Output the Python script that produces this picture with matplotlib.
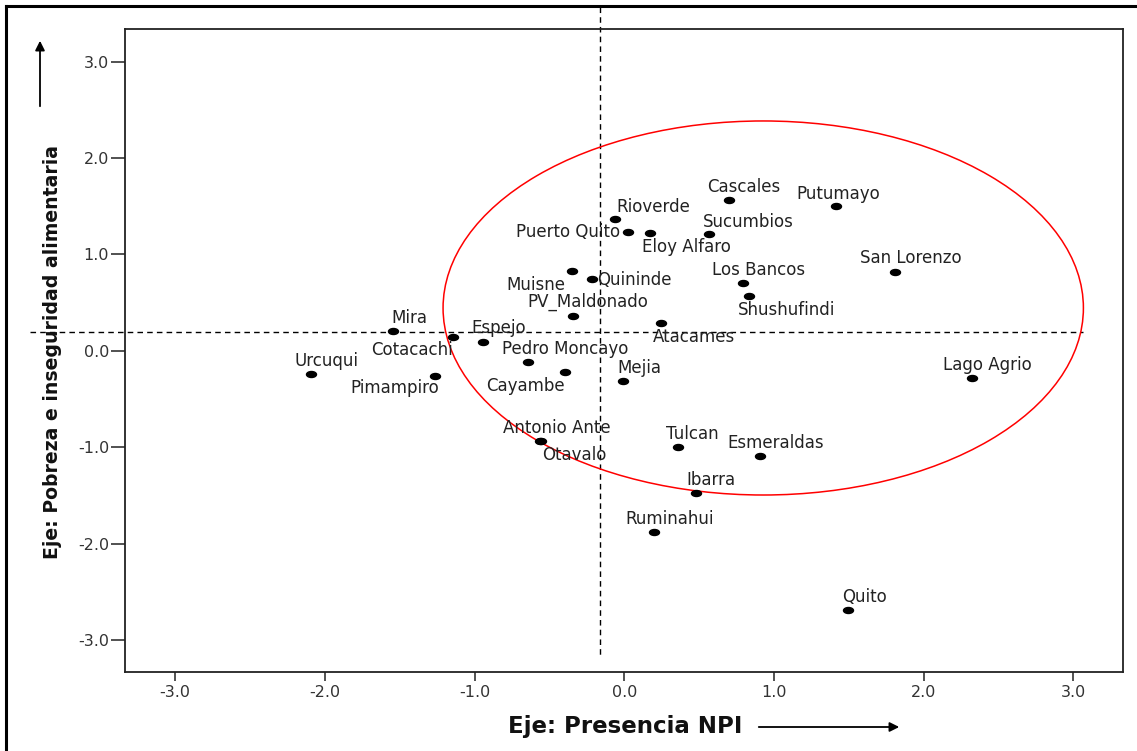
import matplotlib
matplotlib.use("Agg")
import matplotlib.pyplot as plt
from matplotlib.patches import Ellipse, FancyArrowPatch
from matplotlib.lines import Line2D
from matplotlib.path import Path
from matplotlib.transforms import Affine2D

plt.rcParams['font.family'] = ['DejaVu Sans']
plt.rcParams['axes.unicode_minus'] = False

# cantones y sus coordenadas en los dos ejes
cantones = ["Urcuqui", "Mira", "Cotacachi", "Espejo", "Pimampiro", "Pedro Moncayo",
            "Cayambe", "Mejia", "Muisne", "Quininde", "PV_Maldonado", "Rioverde",
            "Puerto Quito", "Eloy Alfaro", "Sucumbios", "Cascales", "Putumayo",
            "Los Bancos", "Shushufindi", "Atacames", "San Lorenzo", "Lago Agrio",
            "Antonio Ante", "Otavalo", "Tulcan", "Esmeraldas", "Ibarra",
            "Ruminahui", "Quito"]
eje_npi = [-2.093, -1.547, -1.146, -0.946, -1.265, -0.641,
           -0.396, -0.007, -0.351, -0.216, -0.341, -0.062,
           0.023, 0.172, 0.568, 0.701, 1.414,
           0.795, 0.835, 0.245, 1.808, 2.325,
           -0.563, -0.556, 0.357, 0.906, 0.479,
           0.196, 1.494]
eje_pobreza = [-0.241, 0.209, 0.146, 0.094, -0.261, -0.113,
               -0.217, -0.310, 0.831, 0.742, 0.361, 1.364,
               1.229, 1.219, 1.212, 1.564, 1.502,
               0.700, 0.568, 0.291, 0.817, -0.279,
               -0.933, -0.936, -1.001, -1.091, -1.472,
               -1.880, -2.689]

# desplazamiento de cada etiqueta (pixeles, centro x / linea base)
lab_dx = [16, 17, -41, 16, -40, 37,
          -40, 16, -36, 42, 15, 38,
          -60, 36, 39, 15, 2,
          15, 37, 33, 16, 15,
          17, 33, 15, 16, 15,
          16, 17]
lab_dy = [8, 8, -18, 9, -17, 8,
          -19, 8, -19, -6, 9, 7,
          -5, -19, 7, 8, 7,
          8, -19, -19, 9, 8,
          8, -19, 8, 8, 8,
          8, 8]

ticks = [-3.0, -2.0, -1.0, 0.0, 1.0, 2.0, 3.0]
ref_x = -0.162
ref_y = 0.20

fig = plt.figure(figsize=(11.37, 7.51), dpi=100)
ax = fig.add_axes([125/1137, 79/751, 998/1137, 643/751])

ell_marker = Path.unit_circle().transformed(Affine2D().scale(1.0, 0.6))
ax.plot(eje_npi, eje_pobreza, ls='none', marker=ell_marker, ms=7.2,
        color='black', zorder=3)

for name, x, y, dx, dy in zip(cantones, eje_npi, eje_pobreza, lab_dx, lab_dy):
    ax.annotate(name, (x, y), xytext=(dx, dy), textcoords='offset pixels',
                ha='center', va='baseline', fontsize=12, color='#222222', zorder=4)

# lineas de referencia (salen fuera del area)
ax.plot([-3.97, 3.064], [ref_y, ref_y], color='black', lw=1.0,
        ls=(0, (4, 3)), clip_on=False, zorder=2)
ax.plot([ref_x, ref_x], [3.566, -3.18], color='black', lw=1.0,
        ls=(0, (4, 3)), clip_on=False, zorder=2)

ax.add_patch(Ellipse((0.928, 0.444), 4.277, 3.88, fill=False,
                     edgecolor='red', lw=1.1, zorder=2))

ax.set_xlim(-3.335, 3.331)
ax.set_ylim(-3.332, 3.338)
ax.set_xticks(ticks)
ax.set_yticks(ticks)
ax.set_xticklabels(["%.1f" % t for t in ticks])
ax.set_yticklabels(["%.1f" % t for t in ticks])
ax.tick_params(axis='x', length=6.5, width=1.2, pad=3, labelsize=11.5,
               labelcolor='#333333', color='#333333')
ax.tick_params(axis='y', length=10, width=1.2, pad=1.5, labelsize=11.5,
               labelcolor='#333333', color='#333333')
for s in ax.spines.values():
    s.set_linewidth(1.3)
    s.set_color('#222222')

fig.text(624.7/1137, 18/751, "Eje: Presencia NPI", ha='center', va='baseline',
         fontsize=16.5, fontweight='bold', color='#111111')
fig.text(53/1137, 399/751, "Eje: Pobreza e inseguridad alimentaria",
         rotation=90, ha='center', va='center', fontsize=13.6, fontweight='bold',
         color='#111111')

# flechas de los ejes
fig.add_artist(FancyArrowPatch(
    (756/1137, 24/751), (902/1137, 24/751), transform=fig.transFigure,
    arrowstyle='-|>', mutation_scale=14, lw=1.3, color='black'))
fig.add_artist(FancyArrowPatch(
    (40/1137, 642/751), (40/1137, 713/751), transform=fig.transFigure,
    arrowstyle='-|>', mutation_scale=14, lw=1.3, color='black'))

# marco exterior
fig.add_artist(Line2D([6/1137, 6/1137], [0, 745/751],
               transform=fig.transFigure, color='black', lw=2.2))
fig.add_artist(Line2D([6/1137, 1], [745/751, 745/751],
               transform=fig.transFigure, color='black', lw=2.2))

fig.savefig("out.png", dpi=100)
